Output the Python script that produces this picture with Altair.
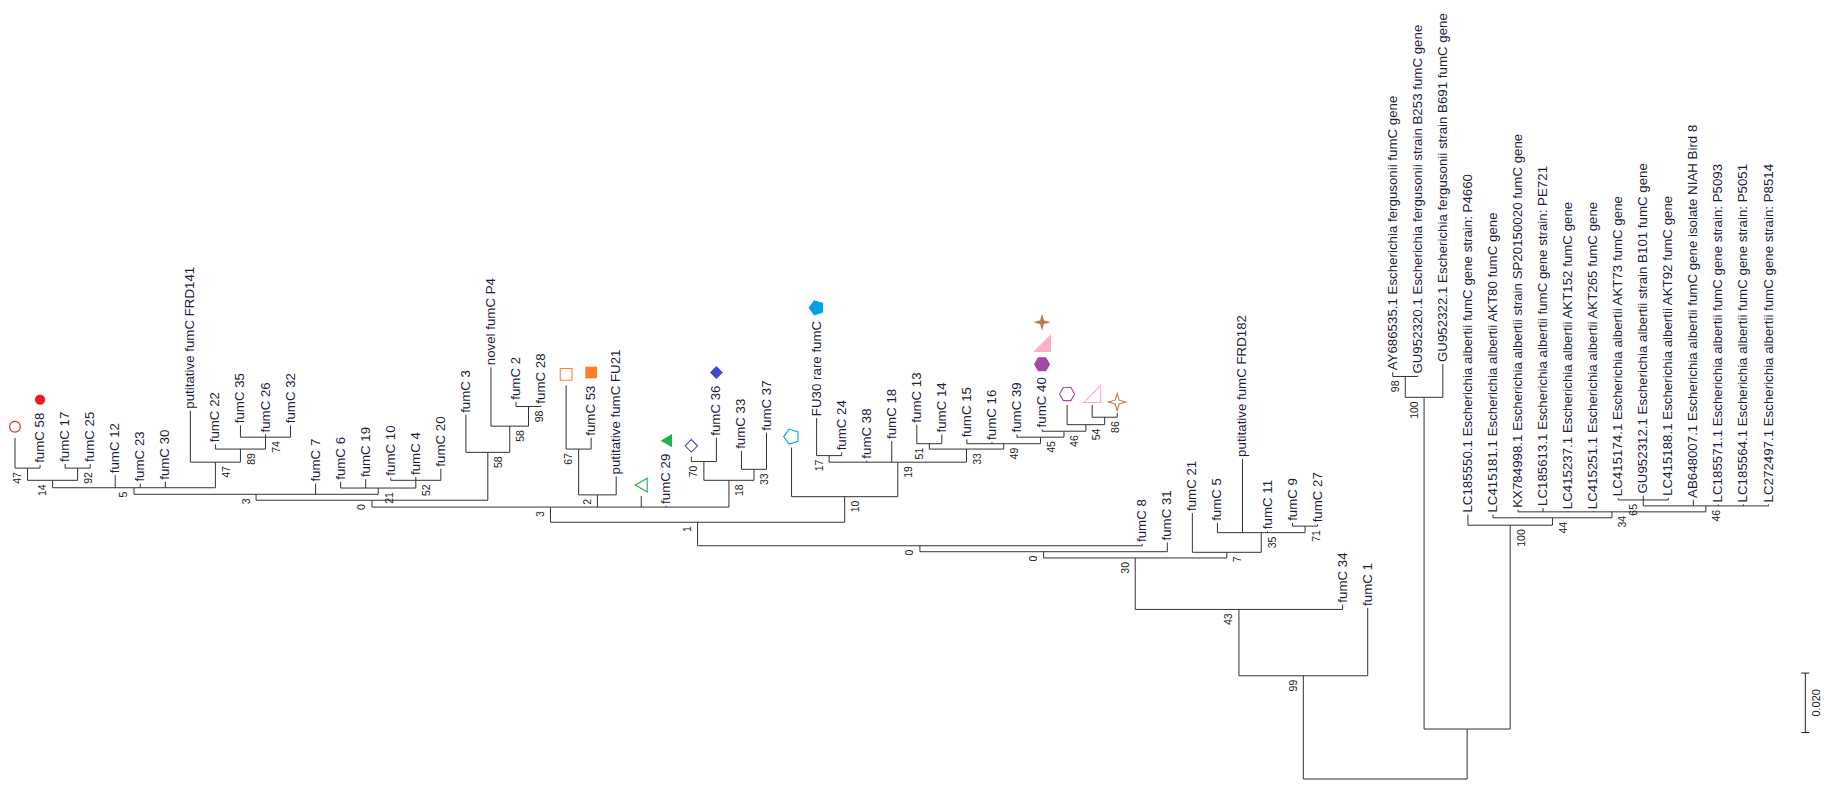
import altair as alt
import pandas as pd

# ---------------- data ----------------
leaf_names = [
    "", "fumC 58", "fumC 17", "fumC 25", "fumC 12", "fumC 23", "fumC 30",
    "putitative fumC FRD141", "fumC 22", "fumC 35", "fumC 26", "fumC 32",
    "fumC 7", "fumC 6", "fumC 19", "fumC 10", "fumC 4", "fumC 20", "fumC 3",
    "novel fumC P4", "fumC 2", "fumC 28", "", "fumC 53", "putitative fumC FU21",
    "", "fumC 29", "", "fumC 36", "fumC 33", "fumC 37", "", "FU30 rare fumC",
    "fumC 24", "fumC 38", "fumC 18", "fumC 13", "fumC 14", "fumC 15", "fumC 16",
    "fumC 39", "fumC 40", "", "", "", "fumC 8", "fumC 31", "fumC 21", "fumC 5",
    "putitative fumC FRD182", "fumC 11", "fumC 9", "fumC 27", "fumC 34", "fumC 1",
    "AY686535.1 Escherichia fergusonii fumC gene",
    "GU952320.1 Escherichia fergusonii strain B253 fumC gene",
    "GU952322.1 Escherichia fergusonii strain B691 fumC gene",
    "LC185550.1 Escherichia albertii fumC gene strain: P4660",
    "LC415181.1 Escherichia albertii AKT80 fumC gene",
    "KX784998.1 Escherichia albertii strain SP20150020 fumC gene",
    "LC185613.1 Escherichia albertii fumC gene strain: PE721",
    "LC415237.1 Escherichia albertii AKT152 fumC gene",
    "LC415251.1 Escherichia albertii AKT265 fumC gene",
    "LC415174.1 Escherichia albertii AKT73 fumC gene",
    "GU952312.1 Escherichia albertii strain B101 fumC gene",
    "LC415188.1 Escherichia albertii AKT92 fumC gene",
    "AB648007.1 Escherichia albertii fumC gene isolate NIAH Bird 8",
    "LC185571.1 Escherichia albertii fumC gene strain: P5093",
    "LC185564.1 Escherichia albertii fumC gene strain: P5051",
    "LC272497.1 Escherichia albertii fumC gene strain: P8514",
]

# distance from the root, in 0.001 substitutions per site
leaf_depth = [
    114.7, 105.6, 105.9, 105.9, 102.1, 99.3, 99.9, 123.8, 112.5, 118.9,
    115.8, 118.9, 99.3, 99.9, 100.8, 101.3, 101.5, 104.3, 122.4, 138.4,
    126.8, 125.5, 132.3, 114.7, 101.7, 95.1, 91.8, 108.3, 114.7, 110.3,
    116.4, 111.4, 121.3, 109.8, 107.0, 113.6, 119.1, 115.8, 114.2, 113.3,
    115.8, 117.5, 125.7, 125.7, 123.0, 79.0, 79.5, 89.4, 86.1, 107.6,
    83.3, 86.1, 85.6, 58.6, 57.5, 136.7, 135.6, 139.5, 88.9, 88.9,
    90.5, 91.1, 90.0, 90.0, 94.4, 95.3, 94.5, 93.8, 92.3, 92.3, 92.3,
]

node_ids = [
    "n47a", "n92", "n14", "n74", "n89", "n47b", "n5", "n52", "n21", "n3a",
    "n98a", "n58b", "n58a", "n0c", "n67", "n2", "n70", "n33a", "n18", "n3b",
    "n17", "n51", "n86", "n54", "n46a", "n45", "n49", "n33b", "n19", "n10",
    "n1", "n0a", "n0b", "n71", "n35", "n7", "n30", "n43", "n99",
    "n98b", "n100a", "n65", "n46b", "n34", "n44", "n100b", "nesch", "root",
]
node_children = [
    [0, 1], [2, 3], ["n47a", "n92"], [9, 10, 11], [8, "n74"], [7, "n89"],
    ["n14", 4, 5, 6, "n47b"], [15, 16, 17], [13, 14, "n52"], ["n5", 12, "n21"],
    [20, 21], [19, "n98a"], [18, "n58b"], ["n3a", "n58a"], [22, 23], ["n67", 24],
    [27, 28], [29, 30], ["n70", "n33a"], ["n0c", "n2", 25, 26, "n18"],
    [32, 33], [36, 37], [43, 44], [42, "n86"], [41, "n54"], [40, "n46a"],
    [38, 39, "n45"], ["n51", "n49"], ["n17", 34, 35, "n33b"], [31, "n19"],
    ["n3b", "n10"], ["n1", 45], ["n0a", 46], [51, 52], [48, 49, 50, "n71"],
    [47, "n35"], ["n0b", "n7"], ["n30", 53], ["n43", 54],
    [55, 56], ["n98b", 57], [64, 65, 66], ["n65", 67, 68, 69, 70],
    [60, 61, 62, 63, "n46b"], [59, "n34"], [58, "n44"], ["n100a", "n100b"],
    ["n99", "nesch"],
]
node_depth = [
    104.5, 104.5, 100.4, 114.9, 110.9, 106.5, 97.9, 100.4, 97.8, 95.7,
    125.2, 118.6, 109.8, 93.7, 110.9, 95.5, 106.7, 104.1, 100.4, 91.4,
    108.7, 112.7, 121.6, 119.1, 116.9, 114.9, 112.7, 110.9, 106.5, 94.9,
    86.3, 78.4, 76.4, 85.0, 82.8, 76.2, 74.3, 57.0, 34.7,
    135.3, 128.3, 93.8, 91.8, 89.8, 87.8, 85.3, 16.8, 0.0,
]
node_support = [
    "47", "92", "14", "74", "89", "47", "5", "52", "21", "3",
    "98", "58", "58", "0", "67", "2", "70", "33", "18", "3",
    "17", "51", "86", "54", "46", "45", "49", "33", "19", "10",
    "1", "0", "0", "71", "35", "7", "30", "43", "99",
    "98", "100", "65", "46", "34", "44", "100", "", "",
]

marker_leaf = [0, 1, 22, 23, 25, 26, 27, 28, 31, 32, 41, 41, 41, 42, 43, 44]
marker_kind = ["red", "red", "orange", "orange", "green", "green", "blue", "blue",
               "cyan", "cyan", "purple", "pink", "brown", "purple", "pink", "brown"]
marker_filled = [False, True, False, True, False, True, False, True,
                 False, True, True, True, True, False, False, False]

scale_bar_length = 20.0  # 0.020 substitutions per site

# ---------------- layout ----------------
W, H = 1818, 772
PXY = 2.975
X_DOM = [-0.2794, 72.295]
Y_DOM = [-1.0 / PXY, (H - 1.0) / PXY]
PXX = W / (X_DOM[1] - X_DOM[0])
LEAF_FS = 13.3

AW = {" ": 278, ".": 278, ":": 278}
for c in "0123456789":
    AW[c] = 556
AW.update(dict(zip("abcdefghijklmnopqrstuvwxyz",
                   [556, 556, 500, 556, 556, 278, 556, 556, 222, 222, 500, 222, 833,
                    556, 556, 556, 556, 333, 500, 278, 556, 500, 722, 500, 500, 500])))
AW.update(dict(zip("ABCDEFGHIJKLMNOPQRSTUVWXYZ",
                   [667, 667, 722, 722, 667, 611, 778, 722, 278, 500, 667, 556, 833,
                    722, 778, 667, 778, 722, 667, 611, 722, 667, 944, 667, 667, 611])))


def text_px(s, size):
    return sum(AW.get(ch, 556) for ch in s) * size / 1000.0


depth = {i: d for i, d in enumerate(leaf_depth)}
xpos = {i: float(i) for i in range(len(leaf_names))}
children = dict(zip(node_ids, node_children))
for nid, d in zip(node_ids, node_depth):
    depth[nid] = d
parent = {}
for nid in node_ids:
    for c in children[nid]:
        parent[c] = nid


def getx(n):
    if n not in xpos:
        ch = children[n]
        xpos[n] = (getx(ch[0]) + getx(ch[-1])) / 2.0
    return xpos[n]


for nid in node_ids:
    getx(nid)

segs = []
for nid in node_ids:
    ch = children[nid]
    segs.append(dict(x=xpos[ch[0]], x2=xpos[ch[-1]], y=depth[nid], y2=depth[nid]))
for c, p in parent.items():
    segs.append(dict(x=xpos[c], x2=xpos[c], y=depth[p], y2=depth[c]))
seg_df = pd.DataFrame(segs)

leaf_rows = [dict(x=float(i), y=leaf_depth[i] + 2.0 / PXY, t=n)
             for i, n in enumerate(leaf_names) if n]
leaf_df = pd.DataFrame(leaf_rows)

boot_rows = []
for nid, sup in zip(node_ids, node_support):
    if not sup:
        continue
    sib = children[parent[nid]]
    off = 11.5 if sib[-1] == nid else -9.5
    boot_rows.append(dict(x=xpos[nid] + off / PXX, y=depth[nid] - 4.0 / PXY, t=sup))
boot_df = pd.DataFrame(boot_rows)

mrows = []
count = {}
for leaf, kind, filled in zip(marker_leaf, marker_kind, marker_filled):
    k = count.get(leaf, 0)
    count[leaf] = k + 1
    name = leaf_names[leaf]
    if name:
        off = 2 + text_px(name, LEAF_FS) + 13 + 21 * k
    else:
        off = 11 + 21 * k
    mrows.append(dict(x=float(leaf), y=leaf_depth[leaf] + off / PXY,
                      kind=kind, filled=filled))
mk_df = pd.DataFrame(mrows)

PENT = "M-1,0L-0.309,-0.951L0.809,-0.588L0.809,0.588L-0.309,0.951Z"
HEX = "M-1,0L-0.5,-0.866L0.5,-0.866L1,0L0.5,0.866L-0.5,0.866Z"
RTRI = "M1,-1L1,1L-1,1Z"
STAR4 = "M0,-1L0.22,-0.22L1,0L0.22,0.22L0,1L-0.22,0.22L-1,0L-0.22,-0.22Z"
# kind -> (colour, shape, size filled, size open)
MARKER_STYLE = {
    "red": ("#ED1C24", "circle", 105, 115),
    "orange": ("#FF7F27", "square", 137, 137),
    "green": ("#22B14C", "triangle-left", 175, 190),
    "blue": ("#3F48CC", "diamond", 165, 155),
    "cyan": ("#00A2E8", PENT, 260, 250),
    "purple": ("#A349A4", HEX, 260, 230),
    "pink": ("#FFAEC9", RTRI, 320, 290),
    "brown": ("#B97A57", STAR4, 300, 300),
}

xs = alt.Scale(domain=X_DOM, nice=False, zero=False)
ys = alt.Scale(domain=Y_DOM, nice=False, zero=False)
X = alt.X("x:Q", scale=xs, axis=None)
Y = alt.Y("y:Q", scale=ys, axis=None)

lines = alt.Chart(seg_df).mark_rule(color="#333333", strokeWidth=1).encode(
    x=X, x2="x2:Q", y=Y, y2="y2:Q")

leaf_text = alt.Chart(leaf_df).mark_text(
    angle=270, align="left", baseline="middle", fontSize=LEAF_FS,
    font="Liberation Sans", color="#1d1d40").encode(x=X, y=Y, text="t:N")

boot_text = alt.Chart(boot_df).mark_text(
    angle=270, align="right", baseline="middle", fontSize=10.5,
    font="Liberation Sans", color="#222222").encode(x=X, y=Y, text="t:N")

marker_layers = []
for kind, (col, shp, s_f, s_o) in MARKER_STYLE.items():
    for filled in (True, False):
        sub = mk_df[(mk_df["kind"] == kind) & (mk_df["filled"] == filled)]
        if len(sub) == 0:
            continue
        marker_layers.append(
            alt.Chart(sub[["x", "y"]]).mark_point(
                shape=shp, size=s_f if filled else s_o, filled=filled,
                color=col, opacity=1, strokeWidth=1.1,
            ).encode(x=X, y=Y)
        )

# scale bar
bar_x = 71.47
bar_y0 = 15.6
bar_df = pd.DataFrame([
    dict(x=bar_x, x2=bar_x, y=bar_y0, y2=bar_y0 + scale_bar_length),
    dict(x=bar_x - 4 / PXX, x2=bar_x + 4 / PXX, y=bar_y0, y2=bar_y0),
    dict(x=bar_x - 4 / PXX, x2=bar_x + 4 / PXX, y=bar_y0 + scale_bar_length,
         y2=bar_y0 + scale_bar_length),
])
bar = alt.Chart(bar_df).mark_rule(color="#222222", strokeWidth=1).encode(
    x=X, x2="x2:Q", y=Y, y2="y2:Q")
bar_lbl = alt.Chart(pd.DataFrame([dict(
    x=bar_x + 11.4 / PXX, y=bar_y0 + scale_bar_length / 2,
    t="%.3f" % (scale_bar_length / 1000.0))])).mark_text(
    angle=270, align="center", baseline="middle", fontSize=11,
    font="Liberation Sans", color="#222222").encode(x=X, y=Y, text="t:N")

chart = alt.layer(lines, leaf_text, boot_text, *marker_layers, bar, bar_lbl).properties(
    width=W, height=H, padding=0,
    autosize=alt.AutoSizeParams(type="none"),
    background="white",
).configure_view(stroke=None)

chart.save("out.html", embed_options={"renderer": "svg", "actions": False})
